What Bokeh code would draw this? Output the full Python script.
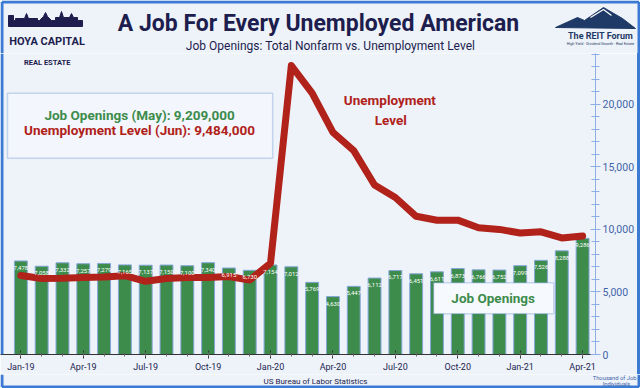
from bokeh.plotting import figure
from bokeh.layouts import column, row
from bokeh.models import (ColumnDataSource, FixedTicker, Label, BoxAnnotation,
                          Range1d, NumeralTickFormatter, Span, Spacer)
from bokeh.embed import file_html
from bokeh.resources import INLINE
from bokeh.core.properties import value

# ---------------- data ----------------
months = ["Jan-19", "Feb-19", "Mar-19", "Apr-19", "May-19", "Jun-19", "Jul-19",
          "Aug-19", "Sep-19", "Oct-19", "Nov-19", "Dec-19", "Jan-20", "Feb-20",
          "Mar-20", "Apr-20", "May-20", "Jun-20", "Jul-20", "Aug-20", "Sep-20",
          "Oct-20", "Nov-20", "Dec-20", "Jan-21", "Feb-21", "Mar-21", "Apr-21"]
job_openings = [7478, 7058, 7332, 7257, 7279, 7165, 7137, 7150, 7100, 7340,
                6915, 6730, 7154, 7012, 5769, 4630, 5447, 6112, 6717, 6451,
                6611, 6873, 6766, 6752, 7099, 7526, 8288, 9286]
unemployment = [6320, 6080, 6100, 6160, 6200, 6300, 5850, 6080, 6160, 6160,
                6240, 5950, 7300, 23100, 20900, 17750, 16300, 13550, 12550,
                11050, 10730, 10740, 10130, 10000, 9710, 9810, 9320, 9480]
tick_months = ["Jan-19", "Apr-19", "Jul-19", "Oct-19", "Jan-20", "Apr-20",
               "Jul-20", "Oct-20", "Jan-21", "Apr-21"]
y_ticks = [0, 5000, 10000, 15000, 20000]

# ---------------- style ----------------
FONT = "Roboto"
BG = "#EEF3FA"
GREEN = "#3D8C4C"
RED = "#B0221A"
NAVY = "#1D1D4E"
LOGO = "#1F3A66"
AXBLUE = "#3F64A8"
BORDER = "#3C7BD4"

W, H = 640, 388
HH = 53           # header height
HM = 321          # main chart height
HF = H - HH - HM  # footer height
MW = W - 3        # main width (3px border strip at the right)

# main frame (local pixels)
FL, FR, FT, FB = 0, 599, 0, 302
x0, x1 = -0.979, 27.62
y0, y1 = 0, 24064
ppx = (FR - FL) / (x1 - x0)
ppy = (FB - FT) / (y1 - y0)


def dx(px):
    return x0 + (px - FL) / ppx


def dy(py):
    return y1 - (py - FT) / ppy


def add_label(fig, x, y, text, size, color, bold=False, align="center"):
    fig.add_layout(Label(x=x, y=y, text=text, text_font=FONT,
                         text_font_size=f"{size}px", text_color=color,
                         text_font_style="bold" if bold else "normal",
                         text_align=align, text_baseline="middle"))


def plain_fig(h):
    f = figure(width=W, height=h, output_backend="svg", toolbar_location=None,
               x_range=Range1d(0, W), y_range=Range1d(h, 0),
               x_axis_type=None, y_axis_type=None,
               min_border_left=0, min_border_right=0,
               min_border_top=0, min_border_bottom=0)
    f.background_fill_color = BG
    f.border_fill_color = BG
    f.outline_line_color = None
    return f


# ---------------- header ----------------
hd = plain_fig(HH)
hd.patch([8, 8, 13, 13, 15, 15, 24, 26, 28, 37, 37, 39, 43, 45, 47,
          51, 55, 55, 59, 61, 63, 69, 71, 73, 77, 77, 82, 82],
         [26, 15, 15, 20, 20, 18, 18, 13, 18, 18, 20, 20, 16, 12, 16,
          20, 20, 17, 17, 11, 17, 17, 13, 17, 17, 20, 20, 26],
         fill_color=NAVY, line_color=NAVY, line_width=1)
hd.patch([555, 577, 584, 603, 622, 635], [27, 17, 20, 7, 18, 28],
         fill_color=LOGO, line_color=LOGO)
hd.line([590, 603, 611], [17, 9, 15], line_color="white", line_width=1.2)
add_label(hd, 46.5, 41, "HOYA CAPITAL", 11, NAVY, True)
add_label(hd, 600, 35, "The REIT Forum", 9, LOGO, True)
add_label(hd, 600, 43, "High Yield - Dividend Growth - Real Estate", 3.7, LOGO)
add_label(hd, 318, 23, "A Job For Every Unemployed American", 23, NAVY, True)
add_label(hd, 330, 45, "Job Openings: Total Nonfarm vs. Unemployment Level", 12, NAVY)
hd.line([1.5, 1.5], [HH, 1.5], line_color=BORDER, line_width=3)
hd.line([1.5, W - 1.5], [1.5, 1.5], line_color=BORDER, line_width=3)
hd.line([W - 1.5, W - 1.5], [1.5, HH], line_color=BORDER, line_width=3)

# ---------------- main chart ----------------
idx = list(range(len(months)))
src = ColumnDataSource(dict(
    idx=idx, jobs=job_openings, unemp=unemployment,
    lab=[f"{v:,}" for v in job_openings]))

p = figure(width=MW, height=HM, output_backend="svg", toolbar_location=None,
           x_range=Range1d(x0, x1), y_range=Range1d(y0, y1),
           y_axis_location="right",
           min_border_left=0, min_border_right=MW - FR,
           min_border_top=0, min_border_bottom=HM - FB)
p.background_fill_color = BG
p.border_fill_color = BG
p.outline_line_color = None
p.xgrid.visible = False
p.ygrid.visible = False

p.vbar(x="idx", top="jobs", width=0.62, source=src, fill_color=GREEN,
       line_color="#86A6D8", line_width=1)
p.line(x="idx", y="unemp", source=src, line_width=7, line_color=RED,
       line_join="round", line_cap="round")
p.text(x="idx", y="jobs", text="lab", source=src, text_color="white",
       text_font=value(FONT), text_font_size="6px", text_align="center",
       text_baseline="top", y_offset=5)

xa = p.xaxis[0]
xa.ticker = FixedTicker(ticks=[months.index(m) for m in tick_months],
                        minor_ticks=idx)
xa.major_label_overrides = {months.index(m): m for m in tick_months}
xa.axis_line_color = "#333333"
xa.major_tick_line_color = "#333333"
xa.minor_tick_line_color = "#666666"
xa.major_tick_in = 4
xa.major_tick_out = 4
xa.minor_tick_in = 2
xa.minor_tick_out = 2
xa.major_label_standoff = 3
xa.major_label_text_font = FONT
xa.major_label_text_font_size = "9px"
xa.major_label_text_color = NAVY

ya = p.yaxis[0]
ya.ticker = FixedTicker(ticks=y_ticks, minor_ticks=list(range(0, 24001, 1000)))
ya.formatter = NumeralTickFormatter(format="0,0")
ya.axis_line_color = "#8FAEE3"
ya.major_tick_line_color = "#8FAEE3"
ya.minor_tick_line_color = "#8FAEE3"
ya.major_tick_in = 5
ya.major_tick_out = 5
ya.minor_tick_in = 4
ya.minor_tick_out = 4
ya.major_label_standoff = 2
ya.major_label_text_font = FONT
ya.major_label_text_font_size = "10.5px"
ya.major_label_text_color = AXBLUE

# left info box
p.add_layout(BoxAnnotation(left=dx(7), right=dx(274), top=dy(40), bottom=dy(105),
                           fill_color="#F3F6FC", fill_alpha=1,
                           line_color="#5B84D0", line_width=1.5))
add_label(p, dx(140), dy(61.5), "Job Openings (May): 9,209,000", 13.5, GREEN, True)
add_label(p, dx(140), dy(77), "Unemployment Level (Jun): 9,484,000", 13.5, RED, True)

# unemployment annotation
add_label(p, dx(392), dy(47), "Unemployment", 13.5, RED, True)
add_label(p, dx(393), dy(67), "Level", 13.5, RED, True)

# job openings box
p.add_layout(BoxAnnotation(left=dx(436), right=dx(557), top=dy(230), bottom=dy(261),
                           fill_color="#F6F9FD", fill_alpha=1,
                           line_color="#5B84D0", line_width=1.5))
add_label(p, dx(496), dy(245.5), "Job Openings", 13.5, GREEN, True)

# logo remainder
add_label(p, dx(47), dy(9), "REAL ESTATE", 7.5, NAVY, True)

# left border
p.add_layout(Span(location=dx(1.5), dimension="height", line_color=BORDER,
                  line_width=3))

main = row(p, Spacer(width=3, height=HM, styles={"background-color": BORDER}),
           spacing=0)

# ---------------- footer ----------------
ft = plain_fig(HF)
add_label(ft, 315, 6.5, "US Bureau of Labor Statistics", 8, NAVY)
add_label(ft, 616, 3.5, "Thousand of Job /", 5.8, AXBLUE)
add_label(ft, 616, 9.5, "Individuals", 5.8, AXBLUE)
ft.line([1.5, 1.5], [0, HF - 1.5], line_color=BORDER, line_width=3)
ft.line([1.5, W - 1.5], [HF - 1.5, HF - 1.5], line_color=BORDER, line_width=3)
ft.line([W - 1.5, W - 1.5], [0, HF - 1.5], line_color=BORDER, line_width=3)

layout = column(hd, main, ft, spacing=0)
open("out.html", "w").write(file_html(layout, INLINE))
